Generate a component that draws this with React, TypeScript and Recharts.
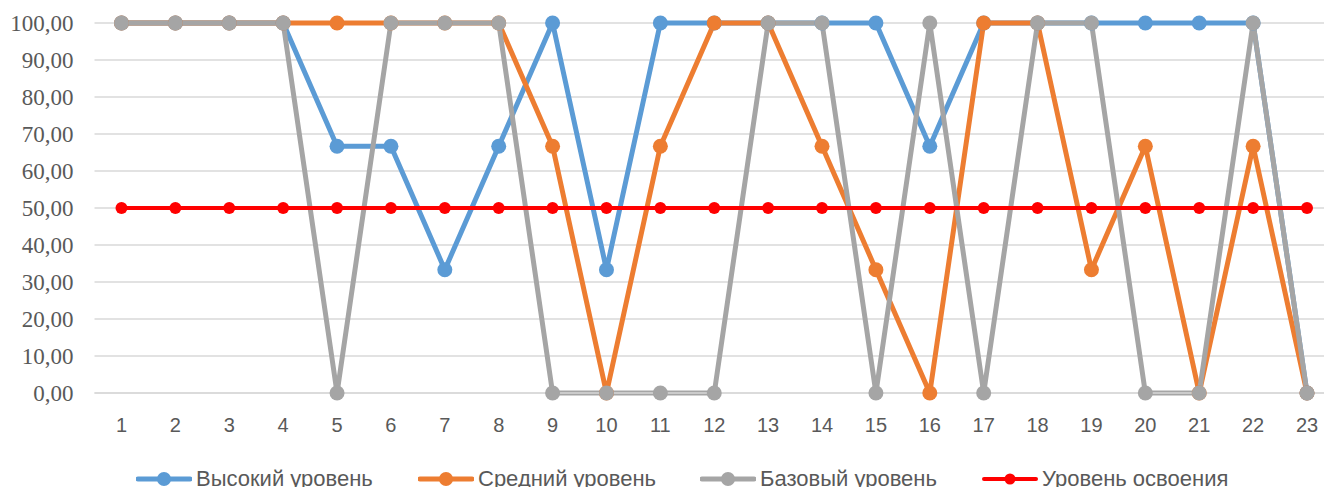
import { CartesianGrid, Legend, Line, LineChart, XAxis, YAxis } from "recharts"

const categories = ["1", "2", "3", "4", "5", "6", "7", "8", "9", "10", "11", "12", "13", "14", "15", "16", "17", "18", "19", "20", "21", "22", "23"]

const high = [100, 100, 100, 100, 66.67, 66.67, 33.33, 66.67, 100, 33.33, 100, 100, 100, 100, 100, 66.67, 100, 100, 100, 100, 100, 100, 0]
const medium = [100, 100, 100, 100, 100, 100, 100, 100, 66.67, 0, 66.67, 100, 100, 66.67, 33.33, 0, 100, 100, 33.33, 66.67, 0, 66.67, 0]
const base = [100, 100, 100, 100, 0, 100, 100, 100, 0, 0, 0, 0, 100, 100, 0, 100, 0, 100, 100, 0, 0, 100, 0]
const mastery = [50, 50, 50, 50, 50, 50, 50, 50, 50, 50, 50, 50, 50, 50, 50, 50, 50, 50, 50, 50, 50, 50, 50]

const yTicks = [0, 10, 20, 30, 40, 50, 60, 70, 80, 90, 100]

const series = [
  { key: "high", name: "Высокий уровень", color: "#5b9bd5", width: 5, r: 7.5 },
  { key: "medium", name: "Средний уровень", color: "#ed7d31", width: 5, r: 7.5 },
  { key: "base", name: "Базовый уровень", color: "#a5a5a5", width: 5, r: 7.5 },
  { key: "mastery", name: "Уровень освоения", color: "#ff0000", width: 4, r: 6 },
]

const data = categories.map((name, i) => ({
  name,
  high: high[i],
  medium: medium[i],
  base: base[i],
  mastery: mastery[i],
}))

const fmt = (v: number) => v.toFixed(2).replace(".", ",")

function ChartLegend() {
  return (
    <div style={{ height: 60, position: "relative" }}>
      <div style={{ display: "flex", alignItems: "center", height: 24, marginTop: 34, paddingLeft: 136 }}>
        {series.map((s) => (
          <div key={s.key} style={{ width: 282, display: "flex", alignItems: "center" }}>
            <svg width={56} height={16} style={{ display: "block" }}>
              <line x1={2} y1={8} x2={54} y2={8} stroke={s.color} strokeWidth={s.width} strokeLinecap="round" />
              <circle cx={28} cy={8} r={s.r - 0.5} fill={s.color} />
            </svg>
            <span
              style={{
                marginLeft: 4,
                fontFamily: "'Liberation Sans', Arial, sans-serif",
                fontSize: 22,
                color: "#595959",
                whiteSpace: "nowrap",
              }}
            >
              {s.name}
            </span>
          </div>
        ))}
      </div>
    </div>
  )
}

export default function App() {
  return (
    <div
      style={{
        position: "fixed",
        top: 0,
        left: 0,
        width: 1324,
        height: 487,
        overflow: "hidden",
        background: "#fff",
      }}
    >
      <LineChart width={1334} height={493} data={data} margin={{ top: 23, right: 0, bottom: 0, left: 0 }}>
        <CartesianGrid vertical={false} stroke="#d9d9d9" strokeWidth={1.5} />
        <XAxis
          dataKey="name"
          height={40}
          padding={{ left: 27, right: 27 }}
          axisLine={{ stroke: "#d9d9d9", strokeWidth: 1.5 }}
          tickLine={false}
          tickSize={0}
          tickMargin={25}
          interval={0}
          tick={{ fill: "#595959", fontSize: 20, fontFamily: "'Liberation Sans', Arial, sans-serif" }}
        />
        <YAxis
          width={94.5}
          domain={[0, 100]}
          ticks={yTicks}
          axisLine={false}
          tickLine={false}
          tickSize={0}
          tickMargin={21}
          tickFormatter={fmt}
          tick={{ fill: "#595959", fontSize: 23, fontFamily: "'Liberation Serif', 'Times New Roman', serif" }}
        />
        <Legend verticalAlign="bottom" height={60} content={() => <ChartLegend />} />
        {series.map((s) => (
          <Line
            key={s.key}
            type="linear"
            dataKey={s.key}
            name={s.name}
            stroke={s.color}
            strokeWidth={s.width}
            strokeLinejoin="round"
            dot={{ r: s.r, fill: s.color, stroke: s.color, strokeWidth: 0 }}
            activeDot={false}
            isAnimationActive={false}
          />
        ))}
      </LineChart>
    </div>
  )
}
